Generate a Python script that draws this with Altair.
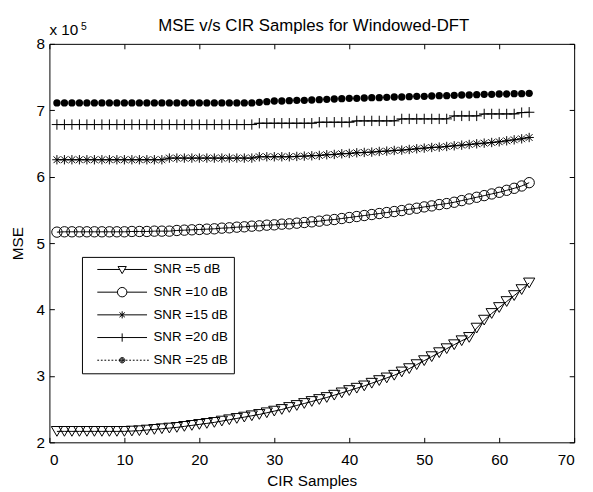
import altair as alt
import pandas as pd

# ---------------- data (MSE values in units of 1e5) ----------------
x_samples = list(range(1, 65))
series_names = ["SNR =5 dB", "SNR =10 dB", "SNR =15 dB", "SNR =20 dB", "SNR =25 dB"]
chart_title = "MSE v/s CIR Samples for Windowed-DFT"

mse_5db = [2.165, 2.165, 2.165, 2.165, 2.165, 2.165, 2.165, 2.165, 2.165, 2.165,
           2.170, 2.175, 2.185, 2.195, 2.205, 2.215, 2.225, 2.240, 2.255, 2.270,
           2.285, 2.300, 2.320, 2.340, 2.360, 2.380, 2.400, 2.420, 2.445, 2.470,
           2.495, 2.525, 2.555, 2.585, 2.615, 2.645, 2.675, 2.710, 2.745, 2.780,
           2.815, 2.850, 2.890, 2.930, 2.970, 3.010, 3.060, 3.110, 3.170, 3.230,
           3.290, 3.350, 3.410, 3.470, 3.530, 3.580, 3.720, 3.840, 3.940, 4.030,
           4.120, 4.210, 4.300, 4.400]

mse_10db = [5.165, 5.170, 5.170, 5.170, 5.170, 5.170, 5.170, 5.170, 5.170, 5.170,
            5.175, 5.175, 5.175, 5.180, 5.180, 5.180, 5.190, 5.195, 5.200, 5.205,
            5.210, 5.215, 5.225, 5.230, 5.240, 5.245, 5.255, 5.260, 5.270, 5.275,
            5.285, 5.290, 5.300, 5.310, 5.320, 5.330, 5.345, 5.355, 5.370, 5.385,
            5.400, 5.415, 5.430, 5.445, 5.460, 5.475, 5.490, 5.510, 5.525, 5.545,
            5.560, 5.580, 5.595, 5.615, 5.640, 5.665, 5.690, 5.715, 5.740, 5.765,
            5.795, 5.825, 5.860, 5.910]

mse_15db = [6.255, 6.255, 6.255, 6.255, 6.255, 6.255, 6.255, 6.255, 6.255, 6.255,
            6.255, 6.255, 6.255, 6.255, 6.255, 6.280, 6.280, 6.280, 6.280, 6.280,
            6.280, 6.280, 6.280, 6.280, 6.280, 6.280, 6.280, 6.300, 6.300, 6.300,
            6.300, 6.300, 6.305, 6.310, 6.315, 6.320, 6.330, 6.335, 6.345, 6.350,
            6.360, 6.365, 6.370, 6.380, 6.385, 6.395, 6.400, 6.410, 6.420, 6.430,
            6.440, 6.445, 6.455, 6.465, 6.475, 6.485, 6.495, 6.505, 6.515, 6.525,
            6.540, 6.555, 6.570, 6.590]

mse_20db = [6.785, 6.785, 6.785, 6.785, 6.785, 6.785, 6.785, 6.785, 6.785, 6.785,
            6.785, 6.785, 6.785, 6.785, 6.785, 6.785, 6.785, 6.785, 6.785, 6.785,
            6.785, 6.785, 6.785, 6.785, 6.785, 6.785, 6.785, 6.805, 6.805, 6.805,
            6.805, 6.805, 6.805, 6.805, 6.805, 6.820, 6.820, 6.820, 6.820, 6.820,
            6.840, 6.840, 6.840, 6.840, 6.840, 6.840, 6.870, 6.870, 6.870, 6.870,
            6.870, 6.870, 6.870, 6.915, 6.915, 6.915, 6.915, 6.945, 6.945, 6.945,
            6.945, 6.945, 6.965, 6.970]

mse_25db = [7.110, 7.110, 7.110, 7.110, 7.110, 7.110, 7.110, 7.110, 7.110, 7.110,
            7.110, 7.110, 7.110, 7.110, 7.110, 7.110, 7.110, 7.110, 7.110, 7.110,
            7.110, 7.110, 7.110, 7.110, 7.110, 7.110, 7.110, 7.120, 7.130, 7.140,
            7.140, 7.145, 7.150, 7.150, 7.155, 7.160, 7.165, 7.170, 7.175, 7.180,
            7.180, 7.185, 7.190, 7.190, 7.195, 7.200, 7.200, 7.205, 7.210, 7.210,
            7.215, 7.220, 7.220, 7.225, 7.230, 7.230, 7.235, 7.240, 7.240, 7.245,
            7.245, 7.250, 7.250, 7.255]

x_ticks = [0, 10, 20, 30, 40, 50, 60, 70]
y_ticks = [200000, 300000, 400000, 500000, 600000, 700000, 800000]
unit = 100000

rows = []
for name, vals in zip(series_names, [mse_5db, mse_10db, mse_15db, mse_20db, mse_25db]):
    for xv, v in zip(x_samples, vals):
        rows.append({"series": name, "x": xv, "mse": v * unit})
df = pd.DataFrame(rows)

FONT = "Liberation Sans"
x_scale = alt.Scale(domain=[0, 70], nice=False, zero=False)
y_scale = alt.Scale(domain=[200000, 800000], nice=False, zero=False)
inward = alt.ExprRef(expr="-5")

axis_bottom = alt.Axis(orient="bottom", values=x_ticks, title="CIR Samples",
                       tickSize=inward, labelPadding=15, titlePadding=6, format="d")
axis_left = alt.Axis(orient="left", values=y_ticks, title="MSE",
                     tickSize=inward, labelPadding=10, titlePadding=11,
                     labelExpr="datum.value / 100000")
axis_top = alt.Axis(orient="top", values=x_ticks, title=None, labels=False, tickSize=inward)
axis_right = alt.Axis(orient="right", values=y_ticks, title=None, labels=False, tickSize=inward)


def xy(xaxis=None, yaxis=None):
    return dict(
        x=alt.X("x:Q", scale=x_scale, axis=xaxis),
        y=alt.Y("mse:Q", scale=y_scale, axis=yaxis),
    )


base = alt.Chart(df)

lines_main = base.transform_filter(
    alt.FieldOneOfPredicate(field="series", oneOf=series_names[:4])
).mark_line(color="black", strokeWidth=1).encode(
    detail="series:N", **xy(axis_top, axis_right)
)
line_25 = base.transform_filter(
    alt.FieldEqualPredicate(field="series", equal=series_names[4])
).mark_line(color="#888888", strokeWidth=1, strokeDash=[1, 2]).encode(**xy())

star_path = "M-1,0L1,0M0,-1L0,1M-0.72,-0.72L0.72,0.72M-0.72,0.72L0.72,-0.72"
plus_path = "M-1,0L1,0M0,-1L0,1"

marker_specs = [
    (series_names[0], dict(shape="triangle-down", filled=False, size=130)),
    (series_names[1], dict(shape="circle", filled=False, size=110)),
    (series_names[2], dict(shape=star_path, filled=False, size=90)),
    (series_names[3], dict(shape=plus_path, filled=False, size=110)),
    (series_names[4], dict(shape="circle", filled=True, size=55)),
]

point_layers = []
for i, (name, spec) in enumerate(marker_specs):
    enc = xy(axis_bottom, axis_left) if i == 0 else xy()
    point_layers.append(
        base.transform_filter(alt.FieldEqualPredicate(field="series", equal=name))
        .mark_point(color="black", strokeWidth=1, opacity=1, **spec)
        .encode(**enc)
    )

# legend symbols: line + marker (drawn in units of sqrt(size)/2 px)
dots_line = "".join(f"M{a:.2f},0L{a + 0.3:.2f},0" for a in [-4.2 + 0.6 * k for k in range(15)])
legend_paths = [
    "M-4.2,0L-0.38,0M0.38,0L4.2,0M-0.7,-0.5L0.7,-0.5L0,0.7Z",
    "M-4.2,0L-0.8,0M0.8,0L4.2,0M0.8,0A0.8,0.8 0 1,1 -0.8,0A0.8,0.8 0 1,1 0.8,0",
    "M-4.2,0L4.2,0M0,-0.6L0,0.6M-0.45,-0.4L0.45,0.4M-0.45,0.4L0.45,-0.4",
    "M-4.2,0L4.2,0M0,-0.7L0,0.7",
    dots_line + "M0.45,0A0.45,0.45 0 1,1 -0.45,0A0.45,0.45 0 1,1 0.45,0"
    "M0.28,0A0.28,0.28 0 1,1 -0.28,0A0.28,0.28 0 1,1 0.28,0"
    "M0.12,0A0.12,0.12 0 1,1 -0.12,0A0.12,0.12 0 1,1 0.12,0",
]

legend_layer = base.transform_filter("datum.x < 0").mark_point(
    color="black", filled=False, opacity=1, strokeWidth=1
).encode(
    shape=alt.Shape(
        "series:N",
        scale=alt.Scale(domain=series_names, range=legend_paths),
        legend=alt.Legend(
            orient="none", legendX=33, legendY=216, title=None,
            strokeColor="black", fillColor="white", padding=6,
            symbolSize=144, symbolStrokeWidth=1, symbolStrokeColor="black",
            symbolOffset=28, labelOffset=25, rowPadding=8,
            labelFont=FONT, labelFontSize=13.5, labelColor="black", labelLimit=0,
        ),
    ),
    **xy(),
)

one_row = alt.Data(values=[{}])
title_text = alt.Chart(one_row).mark_text(
    text=chart_title, align="center", baseline="alphabetic", font=FONT, fontSize=17, color="black"
).encode(x=alt.value(268), y=alt.value(-12.7))
exp_text = alt.Chart(one_row).mark_text(
    text="x 10", align="left", baseline="alphabetic", font=FONT, fontSize=15.5, color="black"
).encode(x=alt.value(0), y=alt.value(-8.7))
exp_sup = alt.Chart(one_row).mark_text(
    text="5", align="left", baseline="alphabetic", font=FONT, fontSize=10.5, color="black"
).encode(x=alt.value(32), y=alt.value(-14.5))

chart = alt.layer(
    lines_main, line_25, *point_layers, legend_layer, title_text, exp_text, exp_sup
).resolve_axis(
    x="independent", y="independent"
).properties(
    width=532, height=404,
    autosize=alt.AutoSizeParams(type="none"),
    padding={"left": 42, "top": 33, "right": 11, "bottom": 47},
).configure_view(
    stroke=None
).configure_axis(
    grid=False, domainColor="black", domainWidth=1, tickColor="black", tickWidth=1,
    labelColor="black", titleColor="black", labelFont=FONT, titleFont=FONT,
    labelFontSize=15.5, titleFontSize=15.5, titleFontWeight="normal",
)

chart.save("out.html", embed_options={"renderer": "svg", "actions": False})
